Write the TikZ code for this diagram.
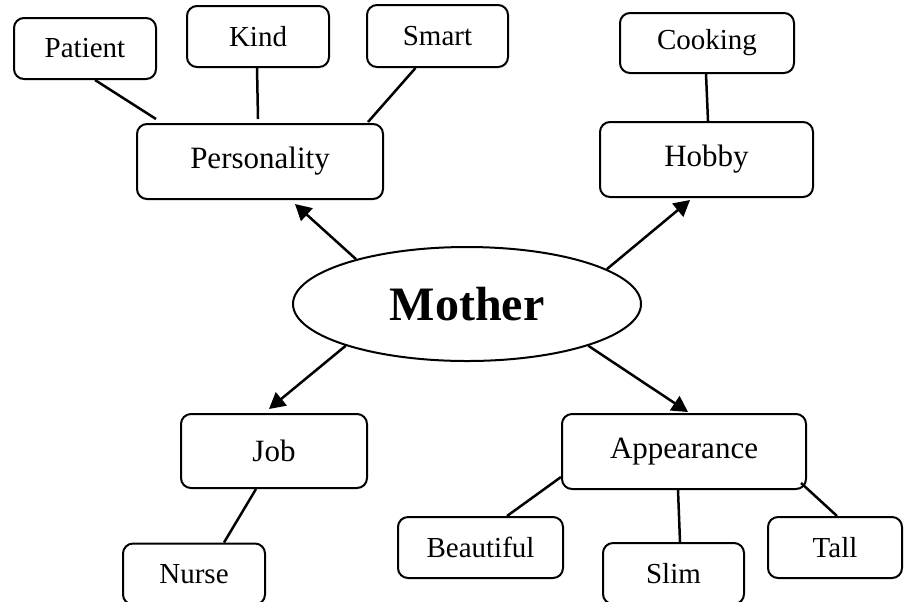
\documentclass[tikz,border=0pt]{standalone}
\usepackage{fontspec}
\setmainfont{Liberation Serif}
\usetikzlibrary{calc,arrows.meta,shapes.geometric}
\begin{document}
\begin{tikzpicture}[x=0.5pt,y=-0.5pt,
  box/.style={draw,rounded corners=5pt,line width=1pt,inner sep=0pt,align=center},
  cat/.style={box,font=\fontsize{15.5}{18}\selectfont},
  leaf/.style={box,font=\fontsize{14.5}{17}\selectfont},
  link/.style={line width=1.25pt},
  arr/.style={link,-{Triangle[length=8pt,width=8.5pt]}}]
\useasboundingbox (0,0) rectangle (908,601);

% central topic
\node[draw,ellipse,line width=1pt,inner sep=0pt,minimum width=174pt,minimum height=57pt,
      font=\fontsize{24}{28}\selectfont\bfseries] (mother) at (467,304) {Mother};

% categories
\node[cat,minimum width=123pt,minimum height=37.5pt] (pers) at (260,161.5) {Personality};
\node[cat,minimum width=106.5pt,minimum height=37.5pt] (hobby) at (706.5,159.5) {Hobby};
\node[cat,minimum width=93pt,minimum height=37pt] (job) at (274,451) {Job};
\node[cat,minimum width=122pt,minimum height=37.5pt] (app) at (684,451.5) {Appearance};

% details
\node[leaf,minimum width=71pt,minimum height=30.5pt] (pat) at (85,48.5) {Patient};
\node[leaf,minimum width=71pt,minimum height=30.5pt] (kind) at (258,36.5) {Kind};
\node[leaf,minimum width=70.5pt,minimum height=31pt] (smart) at (437.5,36) {Smart};
\node[leaf,minimum width=87pt,minimum height=30pt] (cook) at (707,43) {Cooking};
\node[leaf,minimum width=71pt,minimum height=30.5pt] (nurse) at (194,574) {Nurse};
\node[leaf,minimum width=82.5pt,minimum height=30.5pt] (beau) at (480.5,547.5) {Beautiful};
\node[leaf,minimum width=70.5pt,minimum height=30.5pt] (slim) at (673.5,573.5) {Slim};
\node[leaf,minimum width=67pt,minimum height=30.5pt] (tall) at (835,547.5) {Tall};

% arrows from the centre
\draw[arr] (mother.158) -- ($(pers.south)+(35,4)$);
\draw[arr] (mother.14) -- ($(hobby.south)+(-16.5,2)$);
\draw[arr] (mother.199) -- ($(job.north)+(-5,-4)$);
\draw[arr] (mother.341) -- ($(app.north)+(4,-1)$);

% detail links
\draw[link] ($(pat.south)+(10,0)$) -- ($(pers.north)+(-104,-4)$);
\draw[link] ($(kind.south)+(-1,0)$) -- ($(pers.north)+(-2,-4)$);
\draw[link] ($(smart.south)+(-22,0)$) -- ($(pers.north east)+(-16,-1)$);
\draw[link] ($(cook.south)+(-1,0)$) -- ($(hobby.north)+(1.5,0)$);
\draw[link] ($(job.south)+(-18,0)$) -- ($(nurse.north)+(30,0)$);
\draw[link] ($(app.west)+(0,25.5)$) -- ($(beau.north)+(26.5,0)$);
\draw[link] ($(app.south)+(-6,0)$) -- ($(slim.north)+(6.5,0)$);
\draw[link] ($(app.south east)+(-6,-7)$) -- ($(tall.north)+(2,0)$);
\end{tikzpicture}
\end{document}
